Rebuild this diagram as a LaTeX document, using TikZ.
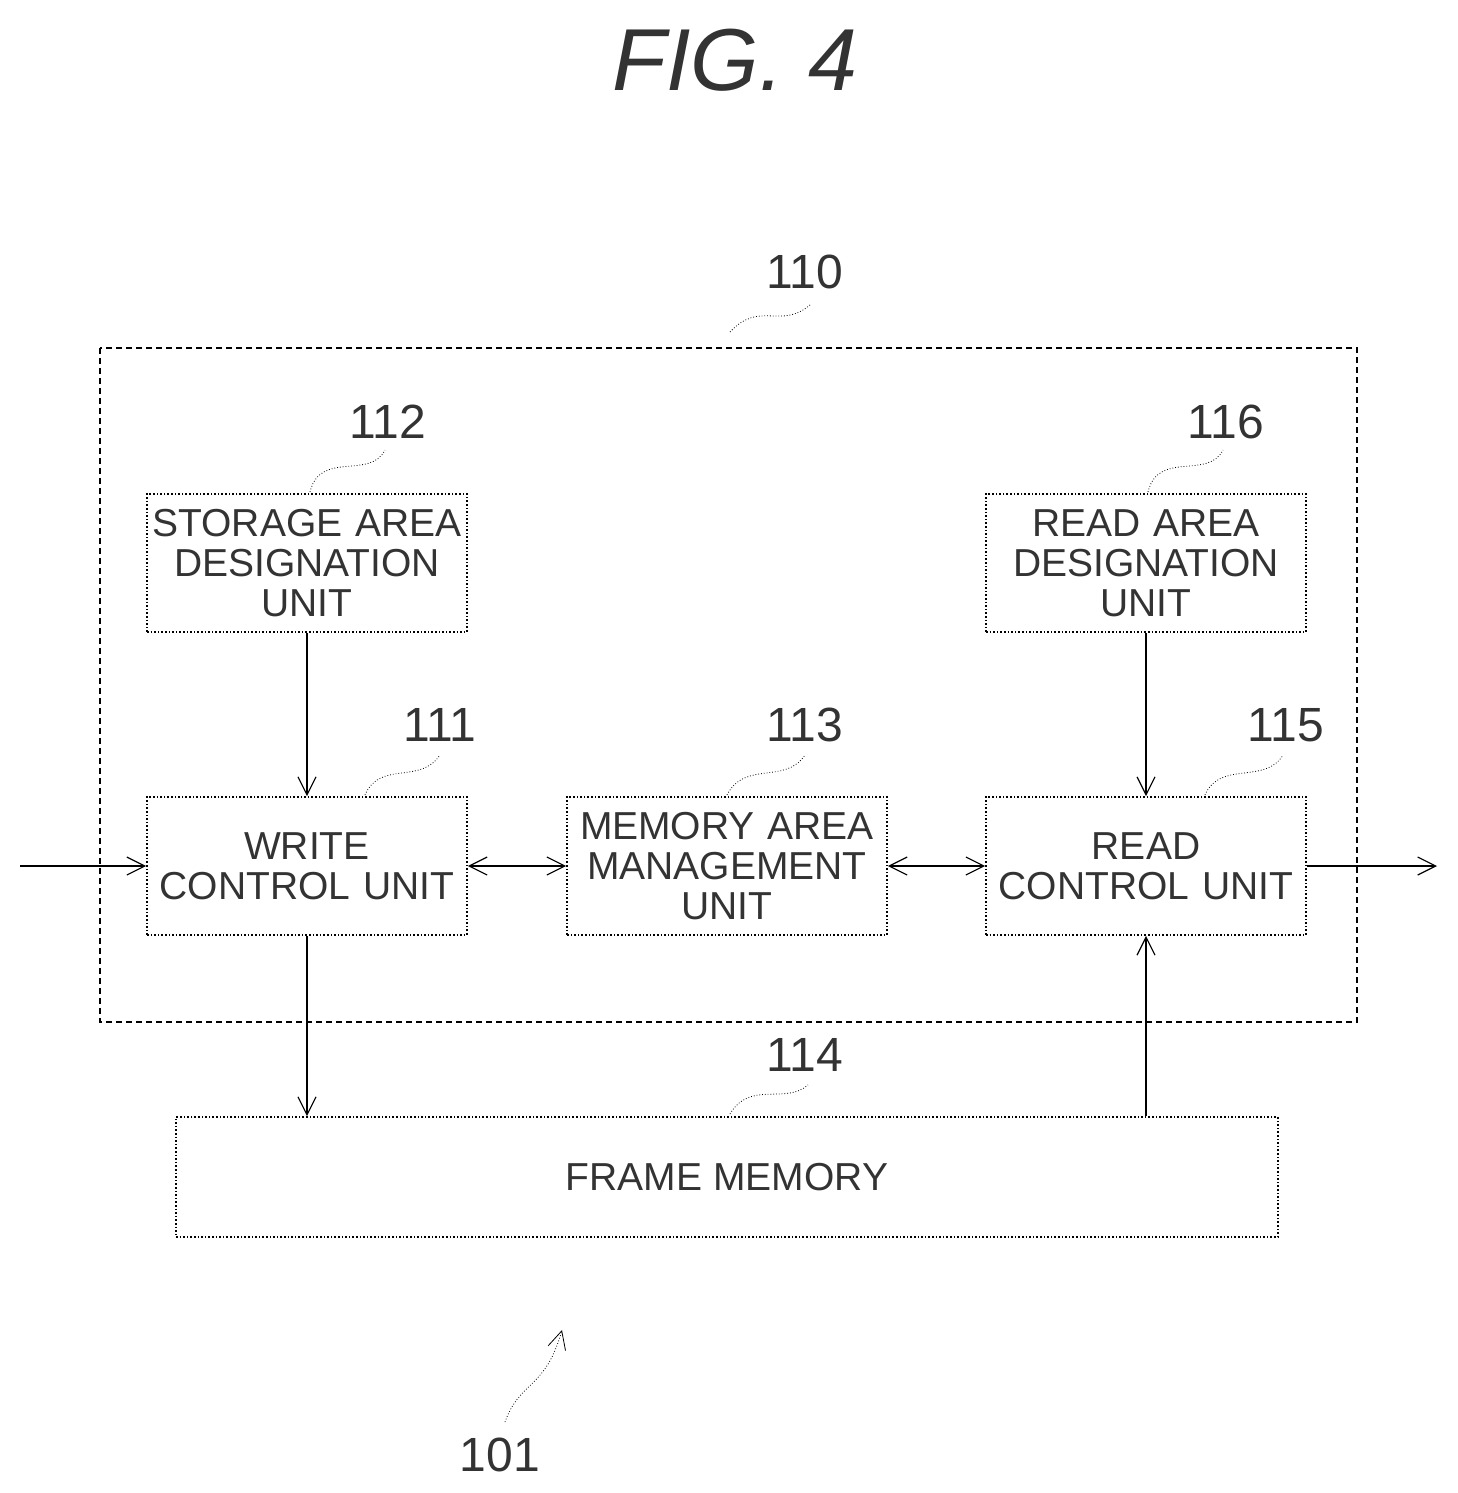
\documentclass[tikz,border=0pt]{standalone}
\usepackage{fontspec}
\setmainfont{Liberation Sans}
\usetikzlibrary{arrows.meta,positioning}
\begin{document}
\begin{tikzpicture}[
            x=0.5pt, y=-0.5pt,
            > = {Straight Barb[length=9pt,width=9pt]}, % open arrow head
            semithick,
            every node/.style={font=\fontsize{19.5}{20}\selectfont, text=black!80}
        ]
        \tikzstyle{unit}=[draw, densely dotted, thick, minimum width=160pt, minimum height=69pt, text width=156pt, align=center, inner sep=0pt]
        \tikzstyle{tag}=[font=\fontsize{24}{24}\selectfont]
        \tikzstyle{lead}=[densely dotted, thin]

        \useasboundingbox (0,0) rectangle (1457,1493);

        % title
        \node[font=\fontsize{44}{44}\selectfont\itshape] (T) at (735,60) {FIG. 4};

        % outer block
        \draw[densely dashed, thick] (100,348) rectangle (1357,1022);
        \node[tag] (L110) at (805,272) {110};
        \draw[lead] (730,332) .. controls (760,300) and (780,330) .. (810,305);

        % upper row
        \node[unit] (SAD) at (307,563) {STORAGE AREA\\DESIGNATION\\UNIT};
        \node[unit] (RAD) at (1146,563) {READ AREA\\DESIGNATION\\UNIT};

        % middle row
        \node[unit] (WCU) at (307,866) {WRITE\\CONTROL UNIT};
        \node[unit] (MAM) at (727,866) {MEMORY AREA\\MANAGEMENT\\UNIT};
        \node[unit] (RCU) at (1146,866) {READ\\CONTROL UNIT};

        % memory
        \node[draw, densely dotted, thick, minimum width=551pt, minimum height=60pt] (FM) at (727,1177) {FRAME MEMORY};

        % reference numerals
        \node[tag] (L112) at (388,422) {112};
        \draw[lead] (310,492) .. controls (320,450) and (370,480) .. (385,450);
        \node[tag] (L116) at (1226,422) {116};
        \draw[lead] (1148,492) .. controls (1158,450) and (1208,480) .. (1223,450);
        \node[tag] (L111) at (440,725) {111};
        \draw[lead] (365,795) .. controls (380,760) and (420,785) .. (440,755);
        \node[tag] (L113) at (805,725) {113};
        \draw[lead] (727,795) .. controls (745,760) and (785,785) .. (805,755);
        \node[tag] (L115) at (1286,725) {115};
        \draw[lead] (1205,795) .. controls (1220,760) and (1265,785) .. (1283,755);
        \node[tag] (L114) at (805,1055) {114};
        \draw[lead] (730,1114) .. controls (750,1080) and (785,1105) .. (808,1085);
        \node[tag] (L101) at (500,1455) {101};
        \coordinate (P101) at (562,1330);
        \draw[lead,->] (505,1422) .. controls (520,1380) and (545,1390) .. (P101);

        % signal flow
        \coordinate (IN) at (20,866);
        \coordinate (OUT) at (1437,866);
        \draw[->] (IN) -- (WCU);
        \draw[->] (RCU) -- (OUT);
        \draw[<->] (WCU) -- (MAM);
        \draw[<->] (MAM) -- (RCU);
        \draw[->] (SAD) -- (WCU);
        \draw[->] (RAD) -- (RCU);
        \draw[->] (WCU.south) -- (WCU.south |- FM.north);
        \draw[->] (RCU.south |- FM.north) -- (RCU.south);
\end{tikzpicture}
\end{document}
